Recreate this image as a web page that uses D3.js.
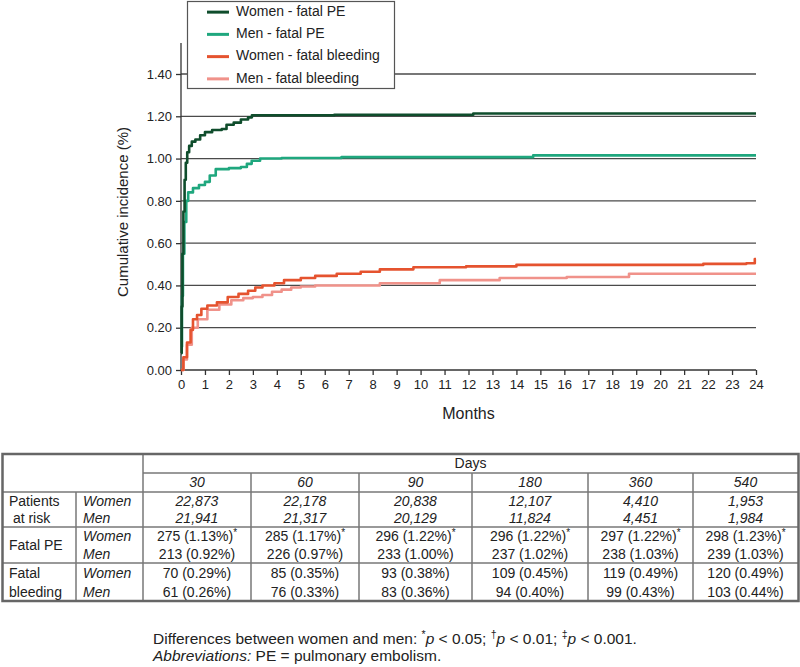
<!DOCTYPE html>
<html>
<head>
<meta charset="utf-8">
<script src="https://cdn.jsdelivr.net/npm/d3@7"></script>
<style>
  body { margin: 0; background: #fff; }
  svg { display: block; font-family: "Liberation Sans", Arial, Helvetica, sans-serif; }
</style>
</head>
<body>
<div id="vis"></div>
<script>
// curves: [month, cumulative incidence %]
var womenPE = [[0,0.08],[0.03,0.3],[0.06,0.55],[0.1,0.75],[0.15,0.9],[0.2,0.98],[0.26,1.03],[0.34,1.06],[0.45,1.08],[0.6,1.09],[0.8,1.11],[1.0,1.125],[1.3,1.135],[1.7,1.14],[1.9,1.16],[2.2,1.17],[2.5,1.185],[2.8,1.195],[2.96,1.205],[6.4,1.207],[12.2,1.213],[24,1.213]];
var menPE = [[0,0.11],[0.04,0.35],[0.08,0.55],[0.14,0.7],[0.22,0.8],[0.3,0.84],[0.5,0.86],[0.75,0.875],[1.0,0.89],[1.2,0.92],[1.45,0.95],[2.0,0.955],[2.5,0.96],[2.75,0.975],[2.95,0.99],[3.3,1.0],[4.2,1.003],[6.7,1.007],[14.7,1.015],[24,1.015]];
var womenBleed = [[0,0],[0.1,0.06],[0.25,0.13],[0.4,0.19],[0.5,0.24],[0.67,0.26],[0.85,0.29],[1.1,0.305],[1.5,0.32],[1.95,0.345],[2.4,0.36],[2.8,0.375],[3.1,0.39],[3.4,0.4],[3.9,0.41],[4.3,0.425],[5.0,0.435],[5.6,0.445],[6.5,0.455],[7.5,0.465],[8.3,0.476],[9.7,0.486],[11.9,0.49],[14,0.497],[21.8,0.502],[23.6,0.505],[23.95,0.525],[24,0.525]];
var menBleed = [[0,0],[0.1,0.05],[0.25,0.12],[0.45,0.2],[0.7,0.24],[1.1,0.285],[1.6,0.31],[2.1,0.33],[2.6,0.34],[3.0,0.345],[3.4,0.355],[3.8,0.37],[4.2,0.38],[4.6,0.39],[5.0,0.395],[5.6,0.4],[8.3,0.41],[10.8,0.425],[13.3,0.435],[16.1,0.44],[18.7,0.455],[24,0.455]];

var seriesNames = ["Women - fatal PE", "Men - fatal PE", "Women - fatal bleeding", "Men - fatal bleeding"];
var seriesColors = ["#0f4d2c", "#1fa77e", "#e5532f", "#f0928a"];

var xTicks = [0,1,2,3,4,5,6,7,8,9,10,11,12,13,14,15,16,17,18,19,20,21,22,23,24];
var yTicks = [0,0.2,0.4,0.6,0.8,1.0,1.2,1.4];

// table
var days = ["30", "60", "90", "180", "360", "540"];
var atRiskWomen = ["22,873", "22,178", "20,838", "12,107", "4,410", "1,953"];
var atRiskMen = ["21,941", "21,317", "20,129", "11,824", "4,451", "1,984"];
var fatalPEWomen = ["275 (1.13%)", "285 (1.17%)", "296 (1.22%)", "296 (1.22%)", "297 (1.22%)", "298 (1.23%)"];
var fatalPEWomenSig = ["*", "*", "*", "*", "*", "*"];
var fatalPEMen = ["213 (0.92%)", "226 (0.97%)", "233 (1.00%)", "237 (1.02%)", "238 (1.03%)", "239 (1.03%)"];
var bleedWomen = ["70 (0.29%)", "85 (0.35%)", "93 (0.38%)", "109 (0.45%)", "119 (0.49%)", "120 (0.49%)"];
var bleedMen = ["61 (0.26%)", "76 (0.33%)", "83 (0.36%)", "94 (0.40%)", "99 (0.43%)", "103 (0.44%)"];

var width = 800, height = 667;

var svg = d3.select("#vis")
        .append("svg")
        .attr("width", width)
        .attr("height", height);

var x = d3.scaleLinear().domain([0, 24]).range([181, 756]);
var y = d3.scaleLinear().domain([0, 1.4]).range([370, 74]);
var axisTop = 43;
var gridColor = "#4a4a4a";

//Grid

svg.append("g")
        .selectAll("line")
        .data(yTicks.filter(function (d) { return d > 0; }))
        .enter()
        .append("line")
        .attr("x1", x(0))
        .attr("x2", x(24))
        .attr("y1", function (d) { return y(d); })
        .attr("y2", function (d) { return y(d); })
        .attr("stroke", gridColor)
        .attr("stroke-width", 1.3);

//Axes

var yAxis = svg.append("g")
        .attr("transform", "translate(" + x(0) + ",0)")
        .call(d3.axisLeft(y).tickValues(yTicks).tickFormat(d3.format(".2f")).tickSize(5).tickPadding(4));
yAxis.select(".domain").attr("d", "M0," + y(0) + "V" + axisTop);

var xAxis = svg.append("g")
        .attr("transform", "translate(0," + y(0) + ")")
        .call(d3.axisBottom(x).tickValues(xTicks).tickFormat(d3.format("d")).tickSize(5).tickPadding(5));
xAxis.select(".domain").attr("d", "M" + x(0) + ",0H" + x(24));

svg.selectAll(".tick text")
        .attr("font-size", "13px")
        .attr("font-family", "Liberation Sans, Arial, sans-serif")
        .attr("fill", "#222");
svg.selectAll(".domain, .tick line")
        .attr("stroke", "#333")
        .attr("stroke-width", 1.3);

svg.append("text")
        .attr("transform", "translate(124," + 212 + ") rotate(-90)")
        .attr("text-anchor", "middle")
        .attr("dominant-baseline", "middle")
        .attr("font-size", "15px")
        .attr("fill", "#222")
        .text("Cumulative incidence (%)");

svg.append("text")
        .attr("x", (x(0) + x(24)) / 2)
        .attr("y", 415)
        .attr("text-anchor", "middle")
        .attr("dominant-baseline", "middle")
        .attr("font-size", "16px")
        .attr("fill", "#222")
        .text("Months");

//Curves

var line = d3.line()
        .x(function (d) { return x(d[0]); })
        .y(function (d) { return y(d[1]); })
        .curve(d3.curveStepAfter);

var allSeries = [menBleed, womenBleed, menPE, womenPE];
var allColors = [seriesColors[3], seriesColors[2], seriesColors[1], seriesColors[0]];

svg.append("g")
        .selectAll("path")
        .data(allSeries)
        .enter()
        .append("path")
        .attr("d", line)
        .attr("fill", "none")
        .attr("stroke", function (d, i) { return allColors[i]; })
        .attr("stroke-width", 2.6)
        .attr("stroke-linejoin", "round");

//Legend

var legend = svg.append("g");
legend.append("rect")
        .attr("x", 187.5)
        .attr("y", 1.5)
        .attr("width", 207)
        .attr("height", 87)
        .attr("fill", "#fff")
        .attr("stroke", "#555")
        .attr("stroke-width", 1.2);

var legendRow = d3.scaleBand().domain(seriesNames).range([1, 90]);
var legendItem = legend.selectAll(".item")
        .data(seriesNames)
        .enter()
        .append("g")
        .attr("transform", function (d) {
            return "translate(0," + (legendRow(d) + legendRow.bandwidth() / 2) + ")";
        });
legendItem.append("line")
        .attr("x1", 207)
        .attr("x2", 229)
        .attr("stroke", function (d, i) { return seriesColors[i]; })
        .attr("stroke-width", 3);
legendItem.append("text")
        .attr("x", 236)
        .attr("dominant-baseline", "middle")
        .attr("font-size", "14px")
        .attr("fill", "#222")
        .text(function (d) { return d; });

//Table

var tbl = svg.append("g").attr("font-size", "14px").attr("fill", "#222");
var colEdges = [143, 251, 359, 472, 588, 693, 798];
var colLeft = d3.scaleOrdinal().domain(days).range(colEdges.slice(0, 6));
var colRight = d3.scaleOrdinal().domain(days).range(colEdges.slice(1));
var lineColor = "#777";
var tTop = 454, tDays = 473, tHead = 492, tRisk = 527, tPE = 563, tBottom = 601;

function hline(x1, x2, yy, w) {
    tbl.append("line").attr("x1", x1).attr("x2", x2).attr("y1", yy).attr("y2", yy)
            .attr("stroke", lineColor).attr("stroke-width", w);
}
function vline(xx, y1, y2, w) {
    tbl.append("line").attr("x1", xx).attr("x2", xx).attr("y1", y1).attr("y2", y2)
            .attr("stroke", lineColor).attr("stroke-width", w);
}

hline(143, 798, tDays, 1.5);
hline(2, 798, tHead, 1.5);
hline(2, 798, tRisk, 1.5);
hline(2, 798, tPE, 1.5);
vline(143, tTop, tBottom, 1.5);
vline(76, tHead, tBottom, 1.5);
days.slice(1).forEach(function (d) {
    vline(colLeft(d), tDays, tBottom, 1.5);
});
tbl.append("rect")
        .attr("x", 2.5).attr("y", tTop)
        .attr("width", 796).attr("height", tBottom - tTop)
        .attr("fill", "none")
        .attr("stroke", "#666")
        .attr("stroke-width", 2.5);

function cellText(xx, yy, str, anchor, italic) {
    return tbl.append("text")
            .attr("x", xx)
            .attr("y", yy)
            .attr("text-anchor", anchor)
            .attr("dominant-baseline", "middle")
            .attr("font-style", italic ? "italic" : "normal")
            .text(str);
}

cellText((143 + 798) / 2, 464, "Days", "middle", false);

var rowsLeft = [
    ["Patients", 502], [" at risk", 519], ["Fatal PE", 546], ["Fatal", 574], ["bleeding", 593]
];
rowsLeft.forEach(function (r) {
    cellText(9, r[1], r[0], "start", false).attr("xml:space", "preserve");
});
var sexRows = [["Women", 502], ["Men", 519], ["Women", 537], ["Men", 555], ["Women", 574], ["Men", 593]];
sexRows.forEach(function (r) {
    cellText(83, r[1], r[0], "start", true);
});

days.forEach(function (d, i) {
    var cx = (colLeft(d) + colRight(d)) / 2;
    cellText(cx, 483, d, "middle", true);
    cellText(cx, 502, atRiskWomen[i], "middle", true);
    cellText(cx, 519, atRiskMen[i], "middle", true);
    var t = cellText(cx, 537, fatalPEWomen[i], "middle", false);
    t.append("tspan")
            .attr("font-size", "10px")
            .attr("dy", -4)
            .text(fatalPEWomenSig[i]);
    cellText(cx, 555, fatalPEMen[i], "middle", false);
    cellText(cx, 574, bleedWomen[i], "middle", false);
    cellText(cx, 593, bleedMen[i], "middle", false);
});

//Footnote

var foot = svg.append("g").attr("font-size", "15.5px").attr("fill", "#222");
var f1 = foot.append("text").attr("x", 153).attr("y", 640).attr("dominant-baseline", "middle");
f1.append("tspan").text("Differences between women and men: ");
var marks = [["*", " < 0.05; "], ["\u2020", " < 0.01; "], ["\u2021", " < 0.001."]];
marks.forEach(function (m) {
    f1.append("tspan").attr("font-size", "10.5px").attr("dy", -5).text(m[0]);
    f1.append("tspan").attr("font-style", "italic").attr("dy", 5).text("p");
    f1.append("tspan").text(m[1]);
});
var f2 = foot.append("text").attr("x", 153).attr("y", 657).attr("dominant-baseline", "middle");
f2.append("tspan").attr("font-style", "italic").text("Abbreviations:");
f2.append("tspan").text(" PE = pulmonary embolism.");
</script>
</body>
</html>
